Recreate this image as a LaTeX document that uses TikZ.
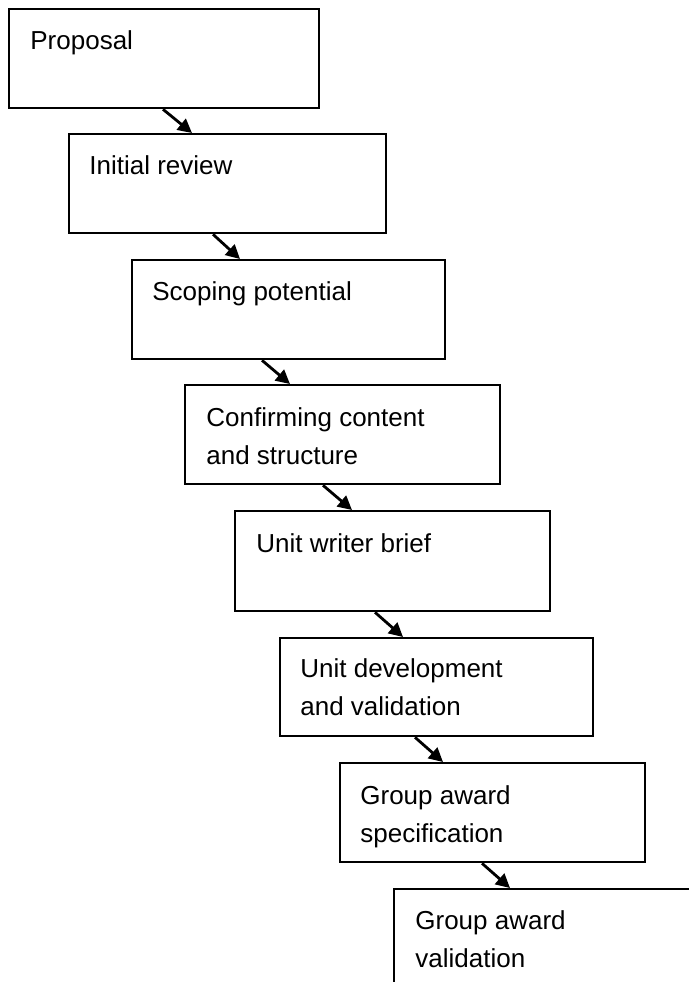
\documentclass[tikz,border=0pt]{standalone}
\usepackage{fontspec}
\setmainfont{Liberation Sans}
\usetikzlibrary{arrows.meta,calc}
\begin{document}
\begin{tikzpicture}[x=0.5pt,y=-0.5pt,
  stagebox/.style={draw=black,line width=1.15pt,rectangle,inner sep=0pt,anchor=north west},
  lbl/.style={inner sep=0pt,anchor=base west,align=left,font=\fontsize{13pt}{19pt}\selectfont},
  arr/.style={line width=1.4pt,-{Triangle[length=7pt,width=7pt]}}]
\useasboundingbox (0,0) rectangle (689,982);
\clip (0,0) rectangle (689,982);
\fill[white] (0,0) rectangle (689,982);
% boxes (width/height in pixel units *0.5pt)
\node[stagebox,minimum width=155pt,minimum height=49.5pt] (b1) at (8,8) {};
\node[stagebox,minimum width=158.5pt,minimum height=49.5pt] (b2) at (68,133) {};
\node[stagebox,minimum width=156.5pt,minimum height=49.5pt] (b3) at (131,259) {};
\node[stagebox,minimum width=157.5pt,minimum height=49.5pt] (b4) at (184,384) {};
\node[stagebox,minimum width=157.5pt,minimum height=50pt] (b5) at (234,510) {};
\node[stagebox,minimum width=156.5pt,minimum height=49pt] (b6) at (279,637) {};
\node[stagebox,minimum width=152.5pt,minimum height=49.5pt] (b7) at (339,762) {};
\node[stagebox,minimum width=200pt,minimum height=80pt] (b8) at (393,888) {};
% labels (base anchor = baseline of the last line)
\node[lbl] (t1) at ($(b1.north west)+(22,41)$) {Proposal};
\node[lbl] (t2) at ($(b2.north west)+(21,41)$) {Initial review};
\node[lbl] (t3) at ($(b3.north west)+(21,41)$) {Scoping potential};
\node[lbl] (t4) at ($(b4.north west)+(22,80)$) {Confirming content\\and structure};
\node[lbl] (t5) at ($(b5.north west)+(22,42)$) {Unit writer brief};
\node[lbl] (t6) at ($(b6.north west)+(21,78)$) {Unit development\\and validation};
\node[lbl] (t7) at ($(b7.north west)+(21,80)$) {Group award\\specification};
\node[lbl] (t8) at ($(b8.north west)+(22,79)$) {Group award\\validation};
% connectors
\draw[arr] ($(b1.south west)+(155,0)$) -- ($(b2.north west)+(124,0)$);
\draw[arr] ($(b2.south west)+(145,0)$) -- ($(b3.north west)+(109,0)$);
\draw[arr] ($(b3.south west)+(131,0)$) -- ($(b4.north west)+(106,0)$);
\draw[arr] ($(b4.south west)+(139,0)$) -- ($(b5.north west)+(118,0)$);
\draw[arr] ($(b5.south west)+(141,0)$) -- ($(b6.north west)+(124,0)$);
\draw[arr] ($(b6.south west)+(136,0)$) -- ($(b7.north west)+(104,0)$);
\draw[arr] ($(b7.south west)+(143,0)$) -- ($(b8.north west)+(117,0)$);
\end{tikzpicture}
\end{document}
